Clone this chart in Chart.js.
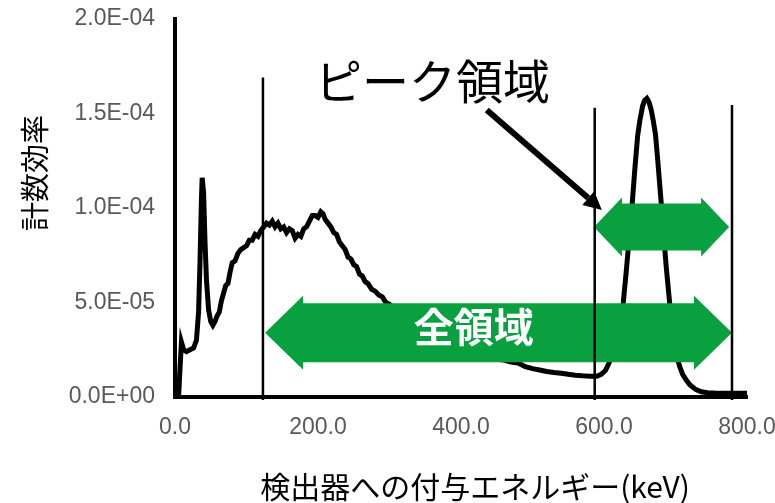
<!DOCTYPE html>
<html>
<head>
<meta charset="utf-8">
<script src="https://cdn.jsdelivr.net/npm/chart.js@4.4.1/dist/chart.umd.min.js"></script>
<style>
  html, body { margin: 0; padding: 0; background: #fff; }
</style>
</head>
<body>
<canvas id="spectrum" width="775" height="503"></canvas>
<script>
// deposited energy (keV) and counting efficiency
const energy = [0, 5, 7, 9, 12, 16, 21, 26, 30, 33, 35, 37, 38, 40, 42, 44, 47, 50, 53, 56,
  59, 62, 65, 68, 71, 74, 77, 80, 84, 88, 92, 96, 100, 104, 108, 112, 116, 120, 124, 128,
  132, 136, 140, 144, 148, 152, 156, 160, 164, 168, 172, 176, 180, 184, 188, 192, 196, 200, 204, 207,
  210, 214, 218, 222, 226, 230, 234, 238, 242, 246, 250, 254, 258, 262, 266, 270, 275, 280, 285, 290,
  295, 300, 310, 320, 330, 340, 350, 360, 370, 380, 390, 400, 410, 420, 430, 440, 450, 460, 470, 480,
  490, 500, 510, 520, 530, 540, 550, 560, 570, 580, 590, 596, 602, 607, 612, 617, 622, 627, 631, 635,
  639, 643, 647, 650, 654, 657, 660, 663, 666, 669, 672, 675, 678, 681, 684, 687, 690, 693, 696, 699,
  702, 706, 710, 715, 720, 728, 736, 745, 755, 765, 775, 785, 795, 800];
const efficiency = [0, 0, 1.5e-5, 2.9e-5, 2.5e-5, 2.4e-5, 2.5e-5, 2.6e-5, 3.0e-5, 4.5e-5,
  7.2e-5, 1.05e-4, 1.16e-4, 1.08e-4, 8.2e-5, 6.2e-5, 4.6e-5, 4.0e-5, 3.8e-5, 4.0e-5,
  4.3e-5, 4.5e-5, 5.1e-5, 5.5e-5, 5.9e-5, 6.0e-5, 6.6e-5, 7.1e-5, 7.2e-5, 7.6e-5,
  7.8e-5, 7.9e-5, 8.0e-5, 8.3e-5, 8.3e-5, 8.6e-5, 8.5e-5, 8.8e-5, 9.0e-5, 9.2e-5,
  9.1e-5, 9.3e-5, 9.0e-5, 9.2e-5, 8.9e-5, 9.0e-5, 8.7e-5, 8.9e-5, 8.8e-5, 8.4e-5,
  8.6e-5, 8.5e-5, 8.9e-5, 9.0e-5, 9.3e-5, 9.6e-5, 9.6e-5, 9.5e-5, 9.8e-5, 9.7e-5,
  9.4e-5, 9.2e-5, 9.0e-5, 8.7e-5, 8.6e-5, 8.2e-5, 8.0e-5, 7.8e-5, 7.4e-5, 7.3e-5,
  7.0e-5, 6.9e-5, 6.5e-5, 6.4e-5, 6.1e-5, 6.0e-5, 5.7e-5, 5.6e-5, 5.4e-5, 5.3e-5,
  5.0e-5, 4.9e-5, 4.6e-5, 4.3e-5, 4.1e-5, 3.9e-5, 3.6e-5, 3.4e-5, 3.1e-5, 2.9e-5,
  2.7e-5, 2.5e-5, 2.4e-5, 2.3e-5, 2.2e-5, 2.1e-5, 2.0e-5, 1.95e-5, 1.85e-5, 1.8e-5,
  1.6e-5, 1.5e-5, 1.43e-5, 1.35e-5, 1.3e-5, 1.26e-5, 1.2e-5, 1.15e-5, 1.12e-5, 1.1e-5,
  1.1e-5, 1.2e-5, 1.4e-5, 1.8e-5, 2.2e-5, 2.8e-5, 3.6e-5, 5.0e-5, 6.6e-5, 8.3e-5,
  1.0e-4, 1.2e-4, 1.38e-4, 1.46e-4, 1.54e-4, 1.57e-4, 1.58e-4, 1.56e-4, 1.52e-4, 1.46e-4,
  1.39e-4, 1.26e-4, 1.12e-4, 9.8e-5, 8.3e-5, 6.9e-5, 5.7e-5, 4.5e-5, 3.6e-5, 2.8e-5,
  2.1e-5, 1.6e-5, 1.2e-5, 9.0e-6, 6.5e-6, 4.0e-6, 2.8e-6, 2.3e-6, 2.1e-6, 2.0e-6,
  2.0e-6, 2.0e-6, 2.0e-6, 2.0e-6];

const xTicks = [0, 200, 400, 600, 800];
const yTicks = [0, 5e-5, 1e-4, 1.5e-4, 2e-4];
const xTitle = '検出器への付与エネルギー(keV)';
const yTitle = '計数効率';

// window boundaries (keV) and how high each marker line reaches
const windowEdges = [123, 587, 779];
const windowTops = [1.69e-4, 1.53e-4, 1.545e-4];

// full window and peak window, in keV, with their height on the efficiency axis
const fullWindow = { from: 126, to: 779, level: 3.4e-5, label: '全領域', labelAt: 418, labelLevel: 3.7e-5 };
const peakWindow = { from: 586, to: 775, level: 9.0e-5 };
const peakNote = { text: 'ピーク領域', at: 360, level: 1.67e-4, from: [436, 1.518e-4], to: [597, 9.9e-5] };

const GREEN = '#09a13f';
const CJK = "'Noto Sans CJK JP', sans-serif";

function expLabel(v) {
  const [m, e] = v.toExponential(1).split('e');
  const n = Math.abs(parseInt(e, 10));
  return m + 'E' + (e[0] === '-' ? '-' : '+') + String(n).padStart(2, '0');
}

function doubleArrow(ctx, x1, x2, cy, shaft, head, headLen) {
  ctx.beginPath();
  ctx.moveTo(x1, cy);
  ctx.lineTo(x1 + headLen, cy - head);
  ctx.lineTo(x1 + headLen, cy - shaft);
  ctx.lineTo(x2 - headLen, cy - shaft);
  ctx.lineTo(x2 - headLen, cy - head);
  ctx.lineTo(x2, cy);
  ctx.lineTo(x2 - headLen, cy + head);
  ctx.lineTo(x2 - headLen, cy + shaft);
  ctx.lineTo(x1 + headLen, cy + shaft);
  ctx.lineTo(x1 + headLen, cy + head);
  ctx.closePath();
  ctx.fill();
}

const overlay = {
  id: 'overlay',
  afterDatasetsDraw(chart) {
    const { ctx, scales: { x, y } } = chart;
    ctx.save();

    ctx.fillStyle = GREEN;
    doubleArrow(ctx, x.getPixelForValue(fullWindow.from), x.getPixelForValue(fullWindow.to),
      y.getPixelForValue(fullWindow.level), 29.5, 37, 38);
    doubleArrow(ctx, x.getPixelForValue(peakWindow.from), x.getPixelForValue(peakWindow.to),
      y.getPixelForValue(peakWindow.level), 23.5, 29.5, 28);

    ctx.fillStyle = '#fff';
    ctx.font = 'bold 40px ' + CJK;
    ctx.textAlign = 'center';
    ctx.textBaseline = 'middle';
    ctx.fillText(fullWindow.label, x.getPixelForValue(fullWindow.labelAt), y.getPixelForValue(fullWindow.labelLevel));

    // window boundary lines
    ctx.strokeStyle = '#000';
    ctx.lineWidth = 2.5;
    windowEdges.forEach((e, i) => {
      const px = x.getPixelForValue(e);
      ctx.beginPath();
      ctx.moveTo(px, y.getPixelForValue(windowTops[i]));
      ctx.lineTo(px, y.getPixelForValue(0) + 3);
      ctx.stroke();
    });

    // callout for the peak window
    ctx.fillStyle = '#000';
    ctx.font = '47px ' + CJK;
    ctx.fillText(peakNote.text, x.getPixelForValue(peakNote.at), y.getPixelForValue(peakNote.level));

    const ax = x.getPixelForValue(peakNote.from[0]), ay = y.getPixelForValue(peakNote.from[1]);
    const bx = x.getPixelForValue(peakNote.to[0]), by = y.getPixelForValue(peakNote.to[1]);
    const ang = Math.atan2(by - ay, bx - ax);
    const hl = 18, hw = 9;
    ctx.lineWidth = 6;
    ctx.beginPath();
    ctx.moveTo(ax, ay);
    ctx.lineTo(bx - hl * Math.cos(ang), by - hl * Math.sin(ang));
    ctx.stroke();
    ctx.beginPath();
    ctx.moveTo(bx, by);
    ctx.lineTo(bx - hl * Math.cos(ang) + hw * Math.sin(ang), by - hl * Math.sin(ang) - hw * Math.cos(ang));
    ctx.lineTo(bx - hl * Math.cos(ang) - hw * Math.sin(ang), by - hl * Math.sin(ang) + hw * Math.cos(ang));
    ctx.closePath();
    ctx.fill();

    ctx.restore();
  },
  afterDraw(chart) {
    // axis titles, placed where the original layout has them rather than centred
    const ctx = chart.ctx;
    ctx.save();
    ctx.fillStyle = '#000';
    ctx.textAlign = 'center';
    ctx.textBaseline = 'middle';
    ctx.font = '30px ' + CJK;
    ctx.fillText(xTitle, 475, 487);
    ctx.translate(35, 173);
    ctx.rotate(-Math.PI / 2);
    ctx.font = '29px ' + CJK;
    ctx.fillText(yTitle, 0, 0);
    ctx.restore();
  }
};

new Chart(document.getElementById('spectrum'), {
  type: 'line',
  data: {
    datasets: [{
      data: energy.map((e, i) => ({ x: e, y: efficiency[i] })),
      borderColor: '#000',
      borderWidth: 5,
      pointRadius: 0,
      tension: 0,
      fill: false
    }]
  },
  options: {
    responsive: false,
    animation: false,
    layout: { padding: { top: 19, right: 28, left: 0, bottom: 0 } },
    plugins: { legend: { display: false }, tooltip: { enabled: false } },
    scales: {
      x: {
        type: 'linear',
        min: 0,
        max: 800,
        afterBuildTicks: s => { s.ticks = xTicks.map(v => ({ value: v })); },
        afterFit: s => { s.height = 106; s.paddingLeft = 0; s.paddingRight = 0; },
        grid: { drawOnChartArea: false, drawTicks: false },
        border: { color: '#000', width: 4 },
        ticks: {
          padding: 17,
          color: '#595959',
          font: { family: "'Liberation Sans', Arial, sans-serif", size: 23 },
          callback: v => v.toFixed(1)
        }
      },
      y: {
        min: 0,
        max: 2e-4,
        afterBuildTicks: s => { s.ticks = yTicks.map(v => ({ value: v })); },
        afterFit: s => { s.width = 175; s.paddingTop = 0; s.paddingBottom = 0; },
        grid: { drawOnChartArea: false, drawTicks: false },
        border: { color: '#000', width: 4 },
        ticks: {
          padding: 20,
          color: '#595959',
          font: { family: "'Liberation Sans', Arial, sans-serif", size: 23 },
          callback: v => expLabel(v)
        }
      }
    }
  },
  plugins: [overlay]
});
</script>
</body>
</html>
